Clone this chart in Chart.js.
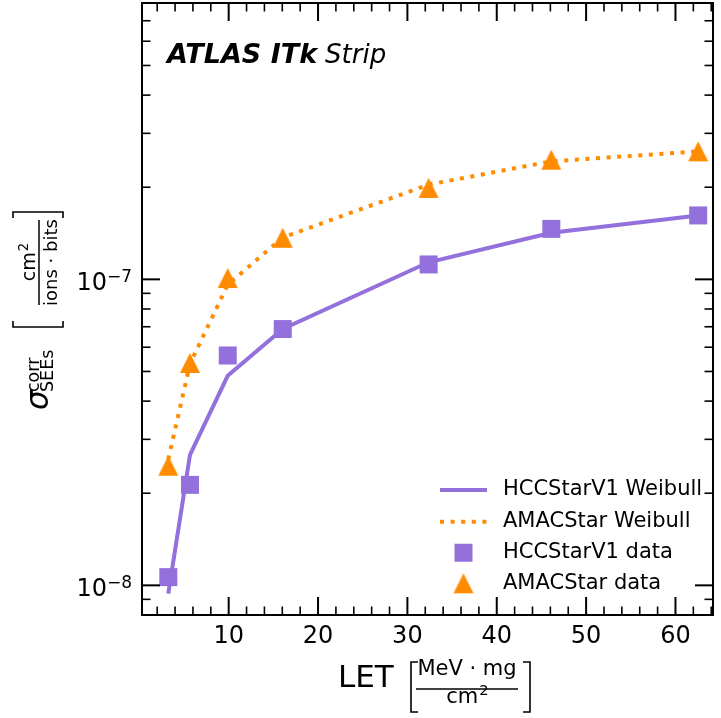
<!DOCTYPE html>
<html lang="en">
<head>
<meta charset="UTF-8">
<title>SEE cross-section vs LET</title>
<script src="https://cdn.jsdelivr.net/npm/chart.js@4.4.0"></script>
<style>
  html, body { margin: 0; padding: 0; background: #fff; }
  #chartBox { width: 721px; height: 718px; }
</style>
</head>
<body>
<div id="chartBox"><canvas id="seeChart" width="721" height="718"></canvas></div>
<script>
// LET of the ion runs [MeV mg / cm2]
const letValues = [3.24, 5.67, 9.89, 16.05, 32.37, 46.1, 62.54];
// measured corrected cross-sections [cm2 / (ions bits)]
const hccData  = [1.064e-8, 2.13e-8, 5.64e-8, 6.88e-8, 1.119e-7, 1.462e-7, 1.618e-7];
const amacData = [2.46e-8, 5.33e-8, 1.01e-7, 1.367e-7, 1.99e-7, 2.46e-7, 2.62e-7];
// Weibull fits at the same LET values
const hccFit  = [9.4e-9, 2.67e-8, 4.84e-8, 6.88e-8, 1.137e-7, 1.42e-7, 1.618e-7];
const amacFit = [2.58e-8, 5.3e-8, 9.6e-8, 1.37e-7, 2.04e-7, 2.43e-7, 2.62e-7];

const xTicks = [10, 20, 30, 40, 50, 60];
const yTicks = [1e-8, 1e-7];
const yTickBase = '10';
const yTickExponents = ['\u22128', '\u22127'];
const legendLabels = ['HCCStarV1 Weibull', 'AMACStar Weibull', 'HCCStarV1 data', 'AMACStar data'];

const PURPLE = '#9370DB';
const ORANGE = '#FF8C00';
const FONT = "'DejaVu Sans', sans-serif";

function markerCanvas(kind, color) {
    const c = document.createElement('canvas');
    c.width = 22; c.height = 22;
    const g = c.getContext('2d');
    g.fillStyle = color;
    if (kind === 'square') {
        g.fillRect(2, 2, 18, 18);
    } else {
        g.beginPath();
        g.moveTo(11, 1); g.lineTo(21, 21); g.lineTo(1, 21);
        g.closePath(); g.fill();
    }
    return c;
}
const squareImg = markerCanvas('square', PURPLE);
const triangleImg = markerCanvas('triangle', ORANGE);

const pts = (ys) => letValues.map((v, i) => ({ x: v, y: ys[i] }));

// "cm" with a raised 2, centred on cx
function drawCm2(ctx, size, cx, base) {
    ctx.save();
    ctx.textAlign = 'left';
    ctx.font = size + 'px ' + FONT;
    const w1 = ctx.measureText('cm').width;
    const supSize = size * 0.7;
    ctx.font = supSize + 'px ' + FONT;
    const w2 = ctx.measureText('2').width;
    const x0 = cx - (w1 + w2) / 2;
    ctx.font = size + 'px ' + FONT;
    ctx.fillText('cm', x0, base);
    ctx.font = supSize + 'px ' + FONT;
    ctx.fillText('2', x0 + w1 + 1, base - size * 0.38);
    ctx.restore();
}

// frame, inward ticks, tick labels of y, axis titles, experiment label and legend
const decorations = {
    id: 'decorations',
    afterDraw(chart) {
        const { ctx, chartArea: a, scales: { x, y } } = chart;
        ctx.save();
        ctx.strokeStyle = '#000';
        ctx.fillStyle = '#000';

        const line = (x1, y1, x2, y2, w) => {
            ctx.lineWidth = w;
            ctx.beginPath(); ctx.moveTo(x1, y1); ctx.lineTo(x2, y2); ctx.stroke();
        };

        // x ticks, major every 10, minor every 2
        for (let v = 2; v <= x.max; v += 2) {
            const major = xTicks.includes(v);
            const len = major ? 18 : 8.5, w = major ? 2 : 1.6;
            const px = x.getPixelForValue(v);
            line(px, a.bottom, px, a.bottom - len, w);
            line(px, a.top, px, a.top + len, w);
        }
        // y ticks, decades major, 2..9 minor
        for (let e = -9; e <= -7; e++) {
            for (let m = 1; m <= 9; m++) {
                const v = m * Math.pow(10, e);
                if (v < y.min || v > y.max) continue;
                const len = m === 1 ? 18 : 8.5, w = m === 1 ? 2 : 1.6;
                const py = y.getPixelForValue(v);
                line(a.left, py, a.left + len, py, w);
                line(a.right, py, a.right - len, py, w);
            }
        }
        ctx.lineWidth = 2;
        ctx.strokeRect(a.left, a.top, a.right - a.left, a.bottom - a.top);

        // y tick labels 10^n
        ctx.textBaseline = 'alphabetic';
        y.ticks.forEach((t) => {
            const i = yTicks.indexOf(t.value);
            if (i < 0) return;
            const py = y.getPixelForValue(t.value);
            ctx.font = '17px ' + FONT;
            const we = ctx.measureText(yTickExponents[i]).width;
            ctx.textAlign = 'right';
            ctx.fillText(yTickExponents[i], 132, py + 3);
            ctx.font = '24px ' + FONT;
            ctx.fillText(yTickBase, 132 - we, py + 10.5);
        });

        // experiment label
        ctx.textAlign = 'left';
        ctx.font = 'italic bold 27px ' + FONT;
        ctx.fillText('ATLAS ITk', 167, 63);
        const w1 = ctx.measureText('ATLAS ITk').width;
        ctx.font = 'italic 26px ' + FONT;
        ctx.fillText('Strip', 167 + w1 + 8, 63);

        // x title: LET [MeV·mg / cm²]
        ctx.font = '31px ' + FONT;
        ctx.fillText('LET', 338, 687);
        ctx.font = '21px ' + FONT;
        ctx.textAlign = 'center';
        ctx.fillText('MeV \u00B7 mg', 467, 675);
        drawCm2(ctx, 21, 467, 703);
        line(416, 689, 518, 689, 1.5);
        ctx.lineWidth = 1.6;
        ctx.beginPath();
        ctx.moveTo(418, 662); ctx.lineTo(411, 662); ctx.lineTo(411, 712); ctx.lineTo(418, 712);
        ctx.moveTo(523, 662); ctx.lineTo(530, 662); ctx.lineTo(530, 712); ctx.lineTo(523, 712);
        ctx.stroke();

        // y title, rotated: sigma^corr_SEEs [cm² / ions·bits]
        ctx.save();
        ctx.translate(47, 410);
        ctx.rotate(-Math.PI / 2);
        ctx.textAlign = 'left';
        ctx.font = 'italic 31px ' + FONT;
        ctx.fillText('\u03C3', 0, 1);
        ctx.font = '17.5px ' + FONT;
        ctx.fillText('corr', 18, -8);
        ctx.fillText('SEEs', 18, 6);
        ctx.textAlign = 'center';
        drawCm2(ctx, 19, 147.5, -12);
        ctx.font = '18px ' + FONT;
        ctx.fillText('ions \u00B7 bits', 147.5, 10);
        line(105, -8, 190, -8, 1.5);
        ctx.lineWidth = 1.6;
        ctx.beginPath();
        ctx.moveTo(89, -34); ctx.lineTo(83, -34); ctx.lineTo(83, 16); ctx.lineTo(89, 16);
        ctx.moveTo(192, -34); ctx.lineTo(198, -34); ctx.lineTo(198, 16); ctx.lineTo(192, 16);
        ctx.stroke();
        ctx.restore();

        // legend
        const rows = [490, 521.7, 552.7, 583.3];
        const order = [2, 3, 0, 1];
        ctx.font = '21px ' + FONT;
        ctx.textAlign = 'left';
        ctx.textBaseline = 'middle';
        order.forEach((di, r) => {
            const ds = chart.data.datasets[di];
            const ry = rows[r];
            if (ds.showLine === false) {
                const img = ds.pointStyle;
                ctx.drawImage(img, 463.5 - img.width / 2, ry - img.height / 2);
            } else {
                ctx.save();
                ctx.strokeStyle = ds.borderColor;
                ctx.setLineDash(ds.borderDash || []);
                ctx.lineCap = 'butt';
                line(440, ry, 487, ry, ds.borderWidth);
                ctx.restore();
            }
            ctx.fillStyle = '#000';
            ctx.fillText(ds.label, 503, ry);
        });
        ctx.restore();
    }
};

const config = {
    type: 'line',
    data: {
        datasets: [
            { label: legendLabels[2], data: pts(hccData), showLine: false,
              pointStyle: squareImg, pointRadius: 10, order: 1 },
            { label: legendLabels[3], data: pts(amacData), showLine: false,
              pointStyle: triangleImg, pointRadius: 10, order: 1 },
            { label: legendLabels[0], data: pts(hccFit), borderColor: PURPLE,
              borderWidth: 4, pointRadius: 0, tension: 0, fill: false, order: 2 },
            { label: legendLabels[1], data: pts(amacFit), borderColor: ORANGE,
              borderWidth: 4, borderDash: [4, 6.6], borderCapStyle: 'butt',
              pointRadius: 0, tension: 0, fill: false, order: 2 }
        ]
    },
    options: {
        responsive: false,
        animation: false,
        devicePixelRatio: 1,
        layout: { autoPadding: false, padding: { top: 3, right: 8, left: 0, bottom: 0 } },
        plugins: { legend: { display: false }, tooltip: { enabled: false } },
        scales: {
            x: {
                type: 'linear',
                min: 0.3,
                max: 64.2,
                grid: { display: false, drawTicks: false },
                border: { display: false },
                afterBuildTicks: (s) => { s.ticks = xTicks.map(v => ({ value: v })); },
                afterFit: (s) => { s.height = 103; s.paddingLeft = 0; s.paddingRight = 0; },
                ticks: {
                    autoSkip: false, maxRotation: 0, padding: 7,
                    color: '#000', font: { family: FONT, size: 24 },
                    callback: (v) => String(v)
                }
            },
            y: {
                type: 'logarithmic',
                min: 8e-9,
                max: 8e-7,
                grid: { display: false, drawTicks: false },
                border: { display: false },
                afterBuildTicks: (s) => { s.ticks = yTicks.map(v => ({ value: v })); },
                afterFit: (s) => { s.width = 142; s.paddingTop = 0; s.paddingBottom = 0; },
                ticks: { display: false }
            }
        }
    },
    plugins: [decorations]
};

new Chart(document.getElementById('seeChart'), config);
</script>
</body>
</html>
